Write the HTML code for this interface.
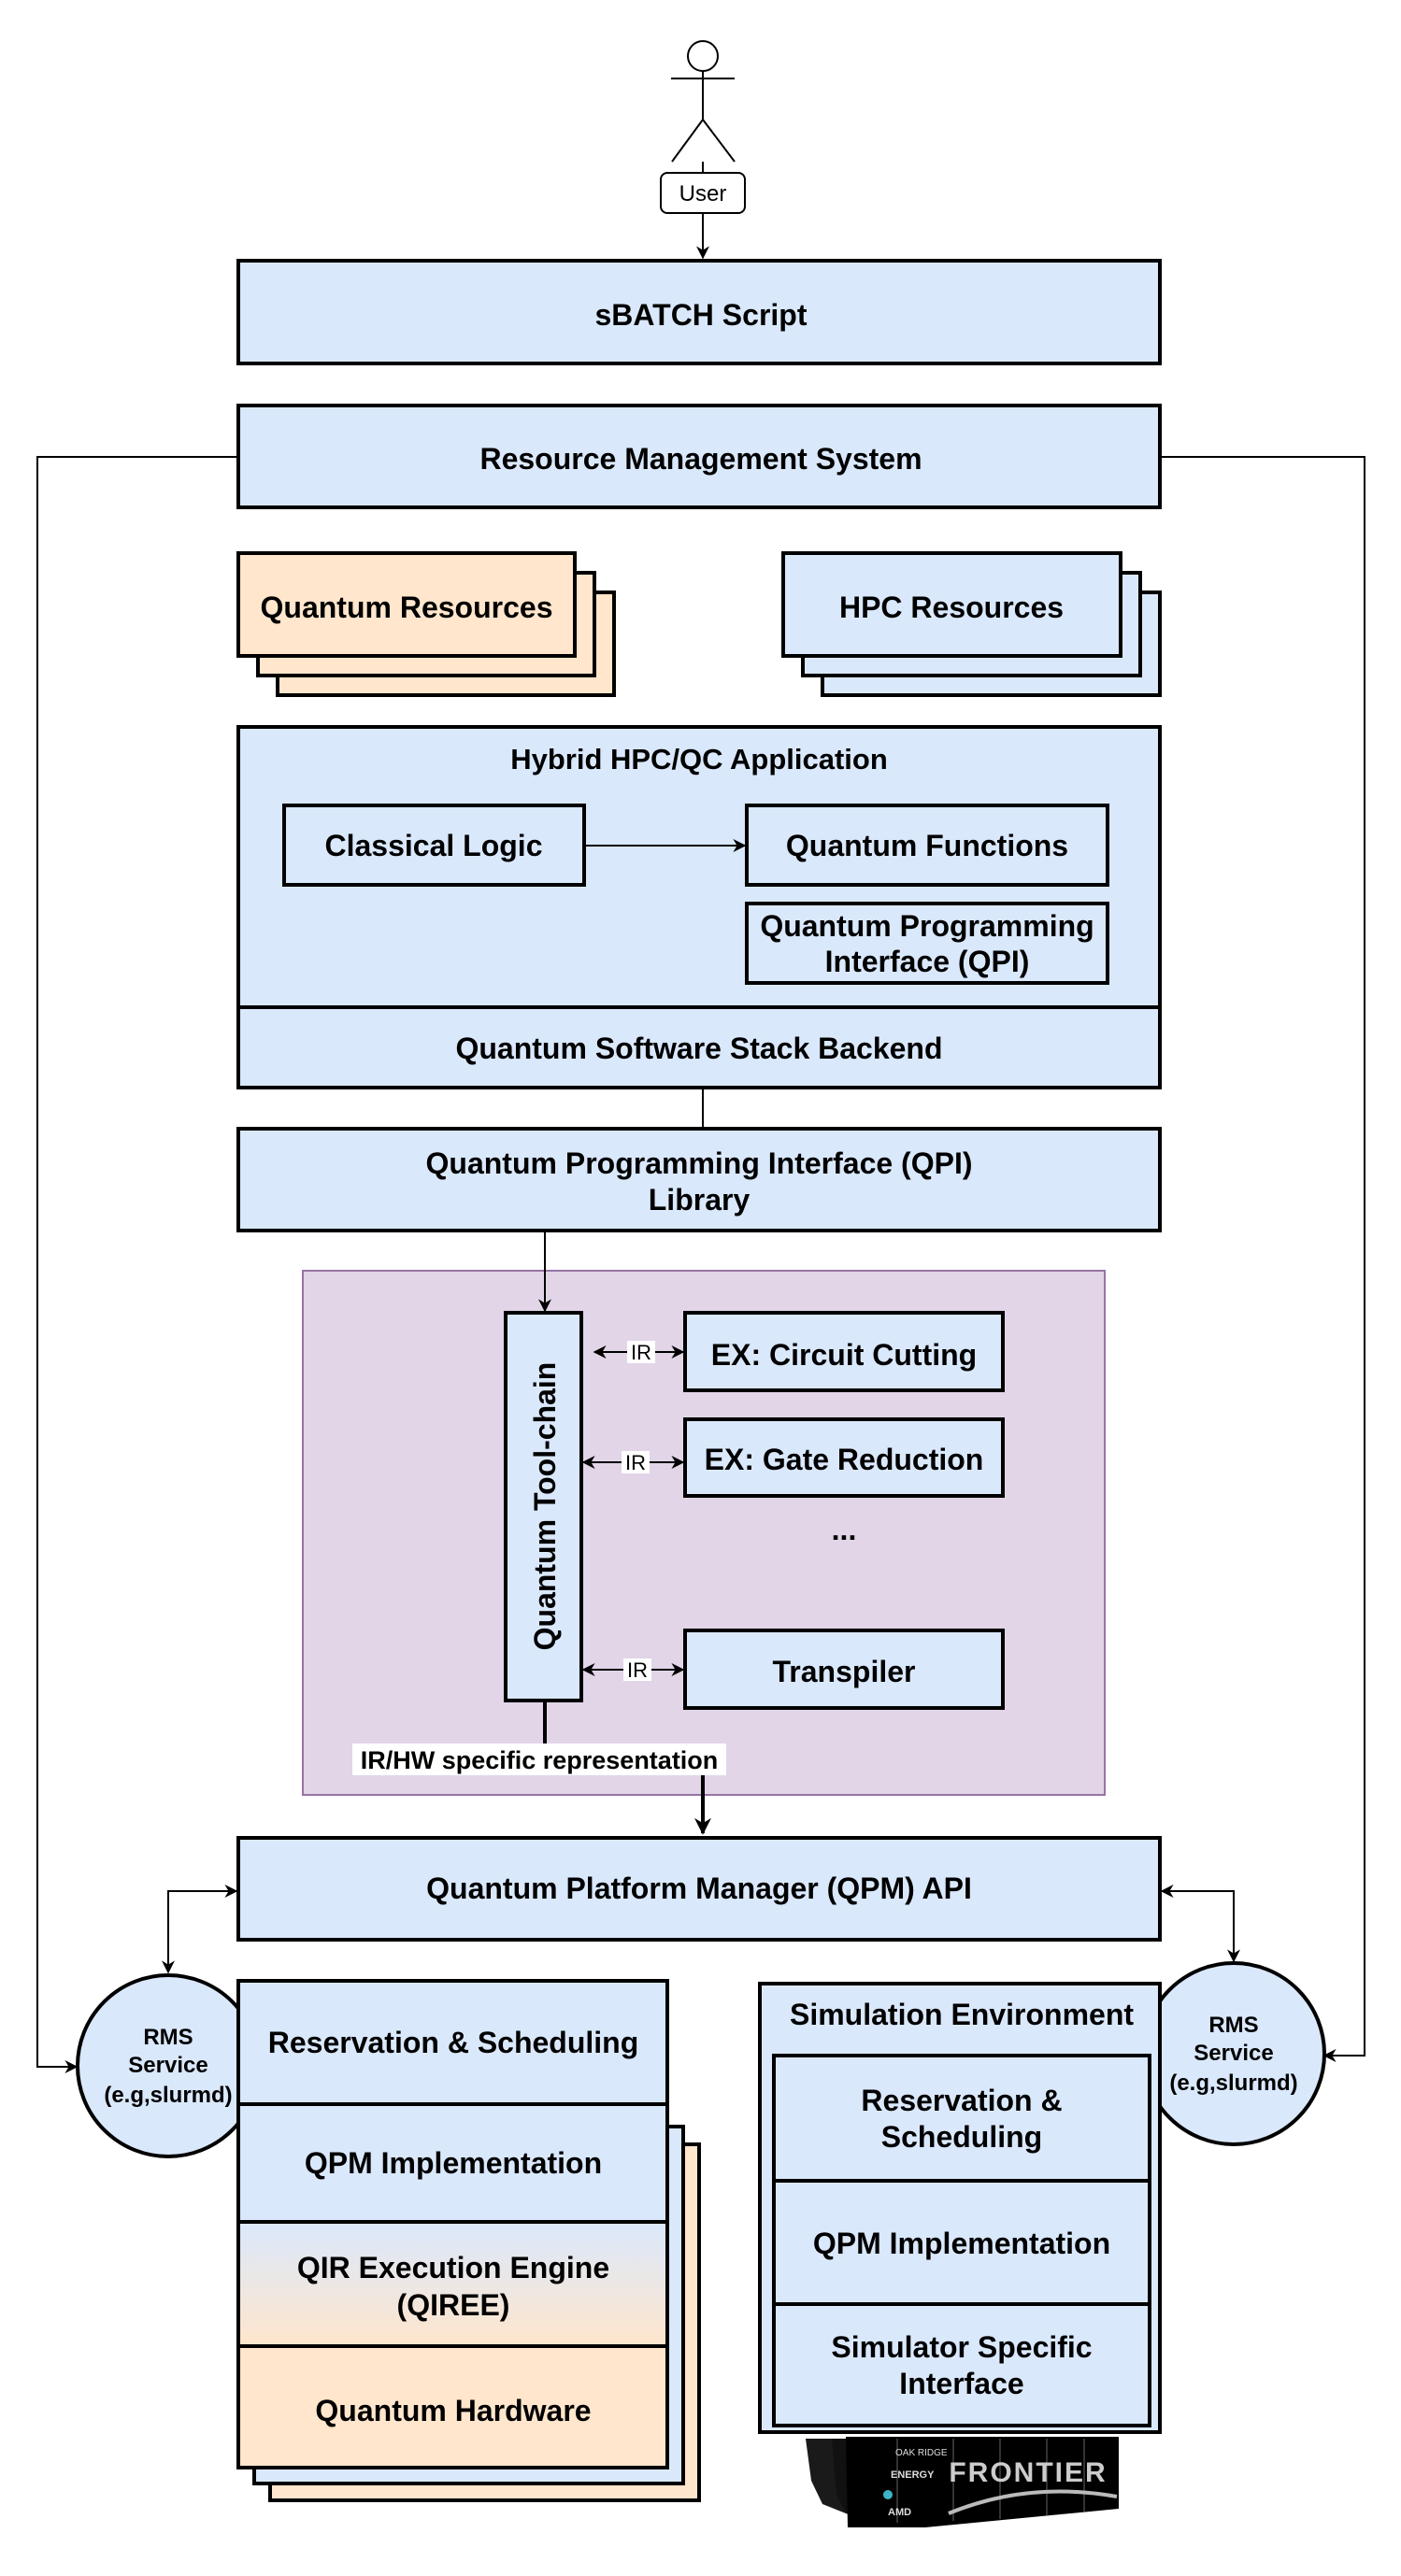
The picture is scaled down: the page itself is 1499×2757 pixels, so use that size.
<!DOCTYPE html>
<html><head><meta charset="utf-8"><style>
html,body{margin:0;padding:0;background:#fff}
svg{display:block}
text{font-family:"Liberation Sans",sans-serif;font-weight:bold;fill:#000}
</style></head><body>
<svg width="1499" height="2757" viewBox="0 0 1499 2757" xmlns="http://www.w3.org/2000/svg">
<defs>
<marker id="a" viewBox="0 0 10 10" refX="9" refY="5" markerWidth="8" markerHeight="8" markerUnits="userSpaceOnUse" orient="auto-start-reverse"><path d="M0,0 L10,5 L0,10 L3,5 z" fill="#000"/></marker>
<marker id="b" viewBox="0 0 10 10" refX="9" refY="5" markerWidth="14" markerHeight="14" markerUnits="userSpaceOnUse" orient="auto-start-reverse"><path d="M0,0 L10,5 L0,10 L3,5 z" fill="#000"/></marker>
<marker id="c" viewBox="0 0 10 10" refX="9" refY="5" markerWidth="18" markerHeight="18" markerUnits="userSpaceOnUse" orient="auto-start-reverse"><path d="M0,0 L10,5 L0,10 L3,5 z" fill="#000"/></marker>
<linearGradient id="g" x1="0" y1="0" x2="0" y2="1"><stop offset="0" stop-color="#dae8fc"/><stop offset="1" stop-color="#ffe6cc"/></linearGradient>
</defs>
<g stroke="#000" stroke-width="2" fill="none">
<circle cx="752" cy="60" r="16"/>
<line x1="752" y1="76" x2="752" y2="128"/>
<line x1="718" y1="84" x2="786" y2="84"/>
<line x1="752" y1="128" x2="719" y2="173"/>
<line x1="752" y1="128" x2="786" y2="173"/>
<line x1="752" y1="173" x2="752" y2="185"/>
<line x1="752" y1="228" x2="752" y2="276" marker-end="url(#b)"/>
<polyline points="254,489 40,489 40,2212 82,2212" marker-end="url(#b)"/>
<polyline points="1241,489 1460,489 1460,2200 1417,2200" marker-end="url(#b)"/>
</g>
<rect x="707" y="185" width="90" height="43" rx="7" fill="#fff" stroke="#000" stroke-width="2"/>
<text x="752" y="215" font-size="24" text-anchor="middle" style="font-weight:normal">User</text>

<g stroke="#000" stroke-width="4" fill="#dae8fc">
<rect x="255" y="279" width="986" height="110"/>
<rect x="255" y="434" width="986" height="109"/>
<rect x="297" y="634" width="360" height="110" fill="#ffe6cc"/>
<rect x="276" y="613" width="360" height="110" fill="#ffe6cc"/>
<rect x="255" y="592" width="360" height="110" fill="#ffe6cc"/>
<rect x="880" y="634" width="361" height="110"/>
<rect x="859" y="613" width="361" height="110"/>
<rect x="838" y="592" width="361" height="110"/>
<rect x="255" y="778" width="986" height="300"/>
<rect x="255" y="1078" width="986" height="86"/>
<rect x="304" y="862" width="321" height="85" fill="none"/>
<rect x="799" y="862" width="386" height="85" fill="none"/>
<rect x="799" y="967" width="386" height="85" fill="none"/>
<rect x="255" y="1208" width="986" height="109"/>
</g>
<line x1="752" y1="1164" x2="752" y2="1208" stroke="#000" stroke-width="2"/>
<line x1="625" y1="905" x2="797" y2="905" stroke="#000" stroke-width="2" marker-end="url(#b)"/>
<g font-size="32" text-anchor="middle">
<text x="750" y="348">sBATCH Script</text>
<text x="750" y="502">Resource Management System</text>
<text x="435" y="661">Quantum Resources</text>
<text x="1018" y="661">HPC Resources</text>
<text x="748" y="823" font-size="31">Hybrid HPC/QC Application</text>
<text x="464" y="916">Classical Logic</text>
<text x="992" y="916">Quantum Functions</text>
<text x="992" y="1002">Quantum Programming</text>
<text x="992" y="1040">Interface (QPI)</text>
<text x="748" y="1133">Quantum Software Stack Backend</text>
<text x="748" y="1256">Quantum Programming Interface (QPI)</text>
<text x="748" y="1295">Library</text>
</g>

<rect x="324" y="1360" width="858" height="561" fill="#e1d5e7" stroke="#9673a6" stroke-width="2"/>
<line x1="583" y1="1317" x2="583" y2="1403" stroke="#000" stroke-width="2" marker-end="url(#b)"/>
<g stroke="#000" stroke-width="4" fill="#dae8fc">
<rect x="541" y="1405" width="81" height="415"/>
<rect x="733" y="1405" width="340" height="83"/>
<rect x="733" y="1519" width="340" height="82"/>
<rect x="733" y="1745" width="340" height="83"/>
</g>
<g font-size="32" text-anchor="middle">
<text transform="translate(594,1612) rotate(-90)">Quantum Tool-chain</text>
<text x="903" y="1461">EX: Circuit Cutting</text>
<text x="903" y="1573">EX: Gate Reduction</text>
<text x="903" y="1648">...</text>
<text x="903" y="1800">Transpiler</text>
</g>
<g stroke="#000" stroke-width="2">
<line x1="636" y1="1447" x2="731" y2="1447" marker-start="url(#b)" marker-end="url(#b)"/>
<line x1="624" y1="1565" x2="731" y2="1565" marker-start="url(#b)" marker-end="url(#b)"/>
<line x1="624" y1="1787" x2="731" y2="1787" marker-start="url(#b)" marker-end="url(#b)"/>
</g>
<g fill="#fff"><rect x="671" y="1435" width="30" height="24"/><rect x="665" y="1553" width="30" height="24"/><rect x="667" y="1775" width="30" height="24"/></g>
<text x="686" y="1455" font-size="22" text-anchor="middle" style="font-weight:normal">IR</text>
<text x="680" y="1573" font-size="22" text-anchor="middle" style="font-weight:normal">IR</text>
<text x="682" y="1795" font-size="22" text-anchor="middle" style="font-weight:normal">IR</text>
<line x1="583" y1="1820" x2="583" y2="1866" stroke="#000" stroke-width="4"/>
<rect x="377" y="1866" width="400" height="34" fill="#fff"/>
<text x="577" y="1893" font-size="27" text-anchor="middle">IR/HW specific representation</text>
<line x1="752" y1="1900" x2="752" y2="1962" stroke="#000" stroke-width="4" marker-end="url(#c)"/>

<rect x="255" y="1967" width="986" height="109" fill="#dae8fc" stroke="#000" stroke-width="4"/>
<text x="748" y="2032" font-size="32" text-anchor="middle">Quantum Platform Manager (QPM) API</text>
<g stroke="#000" stroke-width="2" fill="none">
<polyline points="253,2024 180,2024 180,2111" marker-start="url(#b)" marker-end="url(#b)"/>
<polyline points="1243,2024 1320,2024 1320,2099" marker-start="url(#b)" marker-end="url(#b)"/>
</g>
<circle cx="180" cy="2211" r="97" fill="#dae8fc" stroke="#000" stroke-width="4"/>
<circle cx="1320" cy="2198" r="97" fill="#dae8fc" stroke="#000" stroke-width="4"/>
<g font-size="24" text-anchor="middle">
<text x="180" y="2188">RMS</text><text x="180" y="2218">Service</text><text x="180" y="2250">(e.g,slurmd)</text>
<text x="1320" y="2175">RMS</text><text x="1320" y="2205">Service</text><text x="1320" y="2237">(e.g,slurmd)</text>
</g>

<g stroke="#000" stroke-width="4">
<rect x="289" y="2295" width="459" height="381" fill="#ffe6cc"/>
<rect x="272" y="2276" width="459" height="382" fill="#dae8fc"/>
<rect x="255" y="2120" width="459" height="132" fill="#dae8fc"/>
<rect x="255" y="2252" width="459" height="126" fill="#dae8fc"/>
<rect x="255" y="2378" width="459" height="133" fill="url(#g)"/>
<rect x="255" y="2511" width="459" height="130" fill="#ffe6cc"/>
</g>
<g font-size="32" text-anchor="middle">
<text x="485" y="2197">Reservation &amp; Scheduling</text>
<text x="485" y="2326">QPM Implementation</text>
<text x="485" y="2438">QIR Execution Engine</text>
<text x="485" y="2478">(QIREE)</text>
<text x="485" y="2591">Quantum Hardware</text>
</g>

<g>
<polygon points="862,2610 905,2610 905,2690 880,2680 868,2655" fill="#1a1a1a"/>
<polygon points="890,2610 935,2610 935,2700 905,2690 895,2670" fill="#111"/>
<polygon points="905,2608 1197,2608 1197,2685 990,2705 907,2705" fill="#000"/>
<g stroke="#333" stroke-width="2">
<line x1="960" y1="2610" x2="960" y2="2700"/><line x1="1020" y1="2610" x2="1020" y2="2698"/>
<line x1="1070" y1="2610" x2="1070" y2="2696"/><line x1="1120" y1="2610" x2="1120" y2="2692"/>
<line x1="1160" y1="2610" x2="1160" y2="2688"/>
</g>
<path d="M1015,2690 Q1100,2655 1195,2672" stroke="#bbb" stroke-width="4" fill="none"/>
<text x="1100" y="2656" font-size="30" text-anchor="middle" style="fill:#ccc;letter-spacing:2px">FRONTIER</text>
<text x="958" y="2628" font-size="10" style="fill:#ddd;font-weight:normal">OAK RIDGE</text>
<text x="953" y="2652" font-size="11" style="fill:#ddd">ENERGY</text>
<circle cx="950" cy="2670" r="5" fill="#3cb4c4"/>
<text x="950" y="2692" font-size="11" style="fill:#ddd">AMD</text>
</g>

<rect x="813" y="2123" width="428" height="480" fill="#dae8fc" stroke="#000" stroke-width="4"/>
<g stroke="#000" stroke-width="4" fill="#dae8fc">
<rect x="828" y="2200" width="402" height="134"/>
<rect x="828" y="2334" width="402" height="132"/>
<rect x="828" y="2466" width="402" height="130"/>
</g>
<g font-size="32" text-anchor="middle">
<text x="1029" y="2167">Simulation Environment</text>
<text x="1029" y="2259">Reservation &amp;</text>
<text x="1029" y="2298">Scheduling</text>
<text x="1029" y="2412">QPM Implementation</text>
<text x="1029" y="2523">Simulator Specific</text>
<text x="1029" y="2562">Interface</text>
</g>
</svg>
</body></html>
